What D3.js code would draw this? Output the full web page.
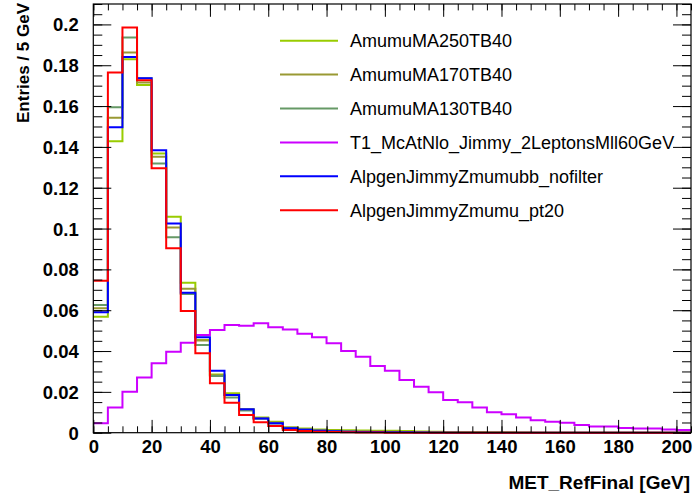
<!DOCTYPE html>
<html>
<head>
<meta charset="utf-8">
<script src="https://cdn.jsdelivr.net/npm/d3@7"></script>
<style>
  html, body { margin: 0; padding: 0; background: #fff; }
  svg { display: block; }
</style>
</head>
<body>
<svg id="chart" width="693" height="500"></svg>
<script>
// Bin lower edges (GeV), 5 GeV bins
const binLow = [0,5,10,15,20,25,30,35,40,45,50,55,60,65,70,75,80,85,90,95,100,
  105,110,115,120,125,130,135,140,145,150,155,160,165,170,175,180,185,190,195,200];
const binWidth = 5;

const seriesNames = ["AmumuMA250TB40","AmumuMA170TB40","AmumuMA130TB40",
  "T1_McAtNlo_Jimmy_2LeptonsMll60GeV","AlpgenJimmyZmumubb_nofilter","AlpgenJimmyZmumu_pt20"];
const seriesColors = ["#99cc00","#999933","#669966","#cc00ff","#0000ff","#ff0000"];

const ma250 = [0.0568,0.1428,0.1829,0.1703,0.1368,0.1058,0.0735,0.0454,0.0285,0.0193,0.0115,
  0.0075,0.0054,0.0026,0.0021,0.0016,0.0013,0.0012,0.0011,0.0010,0.0009,0.0008,0.0006,0.0005,
  0.0004,0.0003,0.0003,0.0002,0.0002,0.0001,0,0,0,0,0,0,0,0,0,0,0];
const ma170 = [0.0610,0.1543,0.1863,0.1715,0.1352,0.1005,0.0705,0.0452,0.0282,0.0186,0.0112,
  0.0072,0.0050,0.0025,0.0018,0.0013,0.0010,0.0008,0.0007,0.0006,0.0005,0.0004,0.0003,0.0003,
  0.0002,0.0002,0.0001,0,0,0,0,0,0,0,0,0,0,0,0,0,0];
const ma130 = [0.0625,0.1594,0.1936,0.1736,0.1319,0.0957,0.0679,0.0429,0.0278,0.0173,0.0109,
  0.0068,0.0045,0.0023,0.0016,0.0011,0.0008,0.0006,0.0005,0.0004,0.0003,0.0003,0.0002,0.0002,
  0.0001,0,0,0,0,0,0,0,0,0,0,0,0,0,0,0,0];
const t1 = [0.0046,0.0123,0.0201,0.0270,0.0340,0.0397,0.0441,0.0478,0.0503,0.0527,0.0524,
  0.0536,0.0516,0.0505,0.0485,0.0467,0.0438,0.0400,0.0372,0.0327,0.0304,0.0258,0.0225,0.0198,
  0.0160,0.0149,0.0124,0.0100,0.0090,0.0074,0.0061,0.0054,0.0049,0.0038,0.0030,0.0030,0.0023,
  0.0021,0.0020,0.0016,0.0013];
const zmumubb = [0.0590,0.1496,0.1840,0.1736,0.1384,0.1025,0.0686,0.0467,0.0304,0.0185,0.0115,
  0.0069,0.0046,0.0022,0.0015,0.0010,0.0007,0.0005,0.0004,0.0003,0.0002,0.0002,0.0001,0,
  0,0,0,0,0,0,0,0,0,0,0,0,0,0,0,0,0];
const zmumu = [0.0744,0.1765,0.1985,0.1727,0.1295,0.0903,0.0596,0.0389,0.0242,0.0147,0.0087,
  0.0051,0.0033,0.0013,0.0008,0.0005,0.0003,0.0002,0.0001,0.0001,0,0,0,0,
  0,0,0,0,0,0,0,0,0,0,0,0,0,0,0,0,0];

const seriesValues = [ma250, ma170, ma130, t1, zmumubb, zmumu];

const xMajorTicks = [0,20,40,60,80,100,120,140,160,180,200];
const yMajorTicks = [0,0.02,0.04,0.06,0.08,0.1,0.12,0.14,0.16,0.18,0.2];
const yTickLabels = ["0","0.02","0.04","0.06","0.08","0.1","0.12","0.14","0.16","0.18","0.2"];

const xTitle = "MET_RefFinal [GeV]";
const yTitle = "Entries / 5 GeV";

// ---- layout ----
const L = 93.3, R = 691, T = 4, B = 432.7;
const font = "'Liberation Sans', Arial, Helvetica, sans-serif";
const svg = d3.select("#chart");

const x = d3.scaleLinear().domain([0, 205]).range([L, R]);
const y = d3.scaleLinear().domain([0, 0.21]).range([B, T]);

const xMinor = d3.range(0, 205.01, 5);
const yMinor = d3.range(0, 0.2101, 0.005);

// histograms
const line = d3.line().x(d => x(d[0])).y(d => y(d[1])).curve(d3.curveStepAfter);
seriesValues.forEach((vals, k) => {
  const pts = binLow.map((b, i) => [b, vals[i]]);
  pts.push([binLow[binLow.length - 1] + binWidth, vals[vals.length - 1]]);
  svg.append("path")
    .attr("d", line(pts))
    .attr("fill", "none")
    .attr("stroke", seriesColors[k])
    .attr("stroke-width", 2)
    .attr("stroke-linejoin", "miter");
});

// axes via d3 axis generators
const xLenMaj = 12.8, xLenMin = 6.4, yLenMaj = 18, yLenMin = 9;

function styleAxis(g) {
  g.select(".domain").remove();
  g.selectAll("line").attr("stroke", "#000").attr("stroke-width", 1);
}

// bottom minor
svg.append("g").attr("transform", `translate(0,${B})`)
  .call(d3.axisTop(x).tickValues(xMinor).tickSize(xLenMin).tickFormat(""))
  .call(styleAxis);
// bottom major + labels
const xb = svg.append("g").attr("transform", `translate(0,${B})`)
  .call(d3.axisTop(x).tickValues(xMajorTicks).tickSize(xLenMaj).tickFormat(d3.format("d")))
  .call(styleAxis);
xb.selectAll("text")
  .attr("y", 0).attr("dy", 0)
  .attr("transform", "translate(0,20)")
  .attr("font-family", font).attr("font-weight", "bold").attr("font-size", "18.5px")
  .attr("fill", "#000").attr("text-anchor", "middle");

// top ticks
svg.append("g").attr("transform", `translate(0,${T})`)
  .call(d3.axisBottom(x).tickValues(xMinor).tickSize(xLenMin).tickFormat(""))
  .call(styleAxis);
svg.append("g").attr("transform", `translate(0,${T})`)
  .call(d3.axisBottom(x).tickValues(xMajorTicks).tickSize(xLenMaj).tickFormat(""))
  .call(styleAxis);

// left ticks
svg.append("g").attr("transform", `translate(${L},0)`)
  .call(d3.axisRight(y).tickValues(yMinor).tickSize(yLenMin).tickFormat(""))
  .call(styleAxis);
const yl = svg.append("g").attr("transform", `translate(${L},0)`)
  .call(d3.axisRight(y).tickValues(yMajorTicks).tickSize(yLenMaj)
    .tickFormat((d, i) => yTickLabels[i]))
  .call(styleAxis);
yl.selectAll("text")
  .attr("x", -14.5).attr("dy", "0.35em")
  .attr("text-anchor", "end")
  .attr("font-family", font).attr("font-weight", "bold").attr("font-size", "18.5px")
  .attr("fill", "#000");

// right ticks
svg.append("g").attr("transform", `translate(${R},0)`)
  .call(d3.axisLeft(y).tickValues(yMinor).tickSize(yLenMin).tickFormat(""))
  .call(styleAxis);
svg.append("g").attr("transform", `translate(${R},0)`)
  .call(d3.axisLeft(y).tickValues(yMajorTicks).tickSize(yLenMaj).tickFormat(""))
  .call(styleAxis);

// frame
svg.append("rect")
  .attr("x", L).attr("y", T).attr("width", R - L).attr("height", B - T)
  .attr("fill", "none").attr("stroke", "#000").attr("stroke-width", 1.2);

// axis titles
svg.append("text")
  .attr("x", 690).attr("y", 489)
  .attr("text-anchor", "end")
  .attr("font-family", font).attr("font-weight", "bold").attr("font-size", "19px")
  .attr("fill", "#000")
  .text(xTitle);

svg.append("text")
  .attr("transform", "translate(29,3) rotate(-90)")
  .attr("text-anchor", "end")
  .attr("font-family", font).attr("font-weight", "bold").attr("font-size", "17px")
  .attr("fill", "#000")
  .text(yTitle);

// legend
const legY0 = 40.7, legDy = 33.9;
seriesNames.forEach((name, k) => {
  const cy = legY0 + k * legDy;
  svg.append("line")
    .attr("x1", 280).attr("x2", 338).attr("y1", cy).attr("y2", cy)
    .attr("stroke", seriesColors[k]).attr("stroke-width", 2);
  svg.append("text")
    .attr("x", 350).attr("y", cy).attr("dy", "0.35em")
    .attr("font-family", font).attr("font-size", "18px").attr("fill", "#000")
    .text(name);
});
</script>
</body>
</html>
